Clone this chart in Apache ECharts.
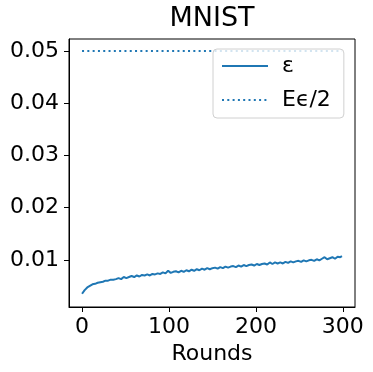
<!DOCTYPE html>
<html>
<head>
<meta charset="utf-8">
<script src="https://cdn.jsdelivr.net/npm/echarts@6/dist/echarts.min.js"></script>
<style>
  html, body { margin: 0; padding: 0; background: #fff; }
  #chart { width: 373px; height: 372px; }
</style>
</head>
<body>
<div id="chart"></div>
<script>
const rounds = [0, 3, 6, 9, 12, 15, 18, 21, 24, 27, 30, 33, 36, 39, 42, 45, 48, 51, 54, 57,
  60, 63, 66, 69, 72, 75, 78, 81, 84, 87, 90, 93, 96, 99, 102, 105, 108, 111, 114, 117,
  120, 123, 126, 129, 132, 135, 138, 141, 144, 147, 150, 153, 156, 159, 162, 165, 168, 171, 174, 177,
  180, 183, 186, 189, 192, 195, 198, 201, 204, 207, 210, 213, 216, 219, 222, 225, 228, 231, 234, 237,
  240, 243, 246, 249, 252, 255, 258, 261, 264, 267, 270, 273, 276, 279, 282, 285, 288, 291, 294, 297, 299]
const epsilon = [0.0035, 0.0042, 0.0047, 0.0050, 0.0053, 0.0054, 0.0056, 0.0057, 0.0058, 0.0060,
  0.0060, 0.0062, 0.0062, 0.0063, 0.0065, 0.0063, 0.0067, 0.0065, 0.0067, 0.0069,
  0.0067, 0.0070, 0.0068, 0.0071, 0.0070, 0.0072, 0.0070, 0.0073, 0.0072, 0.0074,
  0.0073, 0.0076, 0.0074, 0.0079, 0.0075, 0.0077, 0.0078, 0.0076, 0.0079, 0.0077,
  0.0080, 0.0078, 0.0081, 0.0079, 0.0082, 0.0080, 0.0083, 0.0081, 0.0084, 0.0082,
  0.0084, 0.0085, 0.0083, 0.0086, 0.0084, 0.0087, 0.0085, 0.0087, 0.0088, 0.0086,
  0.0089, 0.0087, 0.0090, 0.0088, 0.0090, 0.0091, 0.0089, 0.0092, 0.0090, 0.0092,
  0.0093, 0.0091, 0.0095, 0.0092, 0.0095, 0.0093, 0.0095, 0.0093, 0.0096, 0.0094,
  0.0097, 0.0095, 0.0097, 0.0098, 0.0096, 0.0099, 0.0097, 0.0099, 0.0100, 0.0098,
  0.0101, 0.0099, 0.0102, 0.0105, 0.0101, 0.0103, 0.0105, 0.0102, 0.0106, 0.0105, 0.0107]
// bound line E*eps/2
const boundRounds = [0, 299]
const boundValues = [0.05, 0.05]

const xTicks = [0, 100, 200, 300]
const yTicks = [0.01, 0.02, 0.03, 0.04, 0.05]

const blue = '#1f77b4'
const font = 'DejaVu Sans'

const chart = echarts.init(document.getElementById('chart'))

chart.setOption({
  animation: false,
  backgroundColor: '#fff',
  textStyle: { fontFamily: font },
  title: {
    text: 'MNIST',
    left: 212,
    textAlign: 'center',
    top: 5,
    padding: 0,
    textStyle: { fontFamily: font, fontSize: 27, fontWeight: 'normal', color: '#000' }
  },
  grid: {
    left: 69, right: 18, top: 39, bottom: 65,
    show: true, borderColor: '#000', borderWidth: 1, containLabel: false
  },
  legend: {
    orient: 'vertical',
    left: 213,
    top: 49,
    padding: [5, 13, 6, 8],
    itemWidth: 46,
    itemHeight: 14,
    itemGap: 10,
    backgroundColor: 'rgba(255,255,255,0.8)',
    borderColor: '#d0d0d0',
    borderWidth: 1,
    borderRadius: 4,
    itemStyle: { opacity: 0 },
    textStyle: { fontFamily: font, fontSize: 22, color: '#000', lineHeight: 24, padding: [0, 0, 0, 9] },
    data: [{ name: 'ε' }, { name: 'Eϵ/2' }]
  },
  xAxis: {
    type: 'value',
    min: -15,
    max: 314,
    name: 'Rounds',
    nameLocation: 'middle',
    nameGap: 36,
    nameTextStyle: { fontFamily: font, fontSize: 22, color: '#000' },
    splitLine: { show: false },
    axisLine: { show: true, onZero: false, lineStyle: { color: '#000', width: 1 } },
    axisTick: { show: true, customValues: xTicks, length: 5, lineStyle: { color: '#000' } },
    axisLabel: { customValues: xTicks, margin: 9, fontFamily: font, fontSize: 22, color: '#000' }
  },
  yAxis: {
    type: 'value',
    min: 0.00096,
    max: 0.0523,
    splitLine: { show: false },
    axisLine: { show: true, onZero: false, lineStyle: { color: '#000', width: 1 } },
    axisTick: { show: true, customValues: yTicks, length: 5, lineStyle: { color: '#000' } },
    axisLabel: {
      customValues: yTicks, margin: 10, fontFamily: font, fontSize: 22, color: '#000',
      formatter: v => v.toFixed(2)
    }
  },
  series: [
    {
      name: 'ε',
      type: 'line',
      symbol: 'none',
      data: rounds.map((r, i) => [r, epsilon[i]]),
      lineStyle: { color: blue, width: 2 },
      itemStyle: { color: blue }
    },
    {
      name: 'Eϵ/2',
      type: 'line',
      symbol: 'none',
      data: boundRounds.map((r, i) => [r, boundValues[i]]),
      lineStyle: { color: blue, width: 2, type: [2, 3.3] },
      itemStyle: { color: blue },
      z: 1
    }
  ]
})
</script>
</body>
</html>
